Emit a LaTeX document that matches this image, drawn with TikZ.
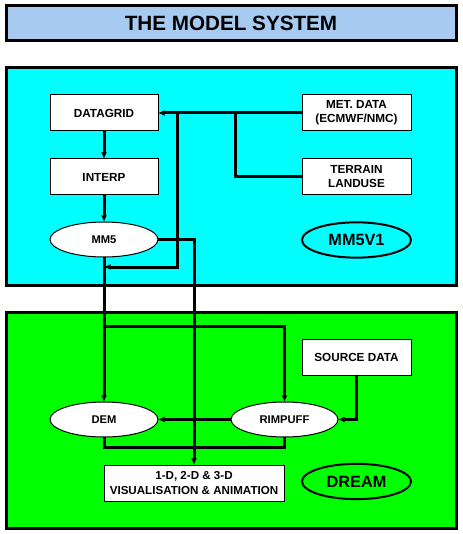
\documentclass[tikz,border=0pt]{standalone}
\usepackage{fontspec}
\setmainfont{Liberation Sans}
\usetikzlibrary{arrows.meta,shapes.geometric}
\definecolor{titleblue}{HTML}{A6CAF0}
\definecolor{cyanbg}{HTML}{00FFFF}
\definecolor{greenbg}{HTML}{00FF00}
\tikzset{
  px/.style={x=0.75pt,y=-0.75pt},
  frame/.style={draw=black,line width=2.25pt},
  boxnode/.style={draw=black,fill=white,line width=0.75pt,minimum width=81pt,minimum height=27pt,inner sep=0pt,outer sep=0pt,font=\bfseries\fontsize{8.8}{10.5}\selectfont,align=center},
  ellnode/.style={ellipse,draw=black,fill=white,line width=0.75pt,minimum width=81pt,minimum height=26.25pt,inner sep=0pt,outer sep=0pt,font=\bfseries\fontsize{8.4}{10}\selectfont},
  labell/.style={ellipse,draw=black,line width=1.5pt,minimum width=81.75pt,minimum height=26.5pt,inner sep=0pt,outer sep=0pt,font=\bfseries\fontsize{12.2}{14}\selectfont},
  conn/.style={draw=black,line width=2.25pt},
  arr/.style={conn,-{Latex[length=5pt,width=4.5pt]}}
}
\begin{document}
\begin{tikzpicture}[px]
\useasboundingbox (0,0) rectangle (462,534);
% title
\node[draw=black,line width=2.25pt,fill=titleblue,minimum width=337.5pt,minimum height=26.25pt,inner sep=0pt,font=\bfseries\fontsize{15.5}{18}\selectfont] (title) at (231,23.5) {THE MODEL SYSTEM};
% frames
\path[frame,fill=cyanbg] (6,68) rectangle (456,285);
\path[frame,fill=greenbg] (6,312) rectangle (456,528);
% MM5 part
\node[boxnode] (datagrid) at (104,113) {DATAGRID};
\node[boxnode] (interp) at (104,177) {INTERP};
\node[ellnode] (mm5) at (104,239.5) {MM5};
\node[boxnode,minimum width=81.75pt] (met) at (356.5,113) {MET. DATA\\(ECMWF/NMC)};
\node[boxnode,minimum width=81.75pt] (terrain) at (356.5,177) {TERRAIN\\LANDUSE};
\node[labell] (mm5v1) at (356.5,240) {MM5V1};
% DREAM part
\node[boxnode,minimum width=81.75pt] (source) at (356.5,357) {SOURCE DATA};
\node[ellnode] (dem) at (104,419.5) {DEM};
\node[ellnode,minimum width=80.25pt] (rimpuff) at (284.5,419.5) {RIMPUFF};
\node[boxnode,minimum width=135pt,font=\bfseries\fontsize{8.7}{11}\selectfont] (vis) at (194,483) {1-D, 2-D \& 3-D\\VISUALISATION \& ANIMATION};
\node[labell] (dream) at (356.5,481.5) {DREAM};
% coordinates
\coordinate (j1) at (235,113);
\coordinate (j2) at (177,113);
\coordinate (m5b) at (104,267);
\coordinate (j3) at (104,326);
% connectors
\draw[arr] (met.west) -- (datagrid.east);
\draw[conn] (j1) |- (terrain.west);
\draw[arr] (j2) |- (m5b);
\draw[arr] (datagrid.south) -- (interp.north);
\draw[arr] (interp.south) -- (mm5.north);
\draw[arr] (mm5.south) -- (dem.north);
\draw[arr] (mm5.east) -| (vis.north);
\draw[arr] (j3) -| (rimpuff.north);
\draw[arr] (rimpuff.west) -- (dem.east);
\draw[arr] (source.south) |- (rimpuff.east);
\draw[conn] (dem.south) -- ++(0,10) -| (rimpuff.south);
\end{tikzpicture}
\end{document}
